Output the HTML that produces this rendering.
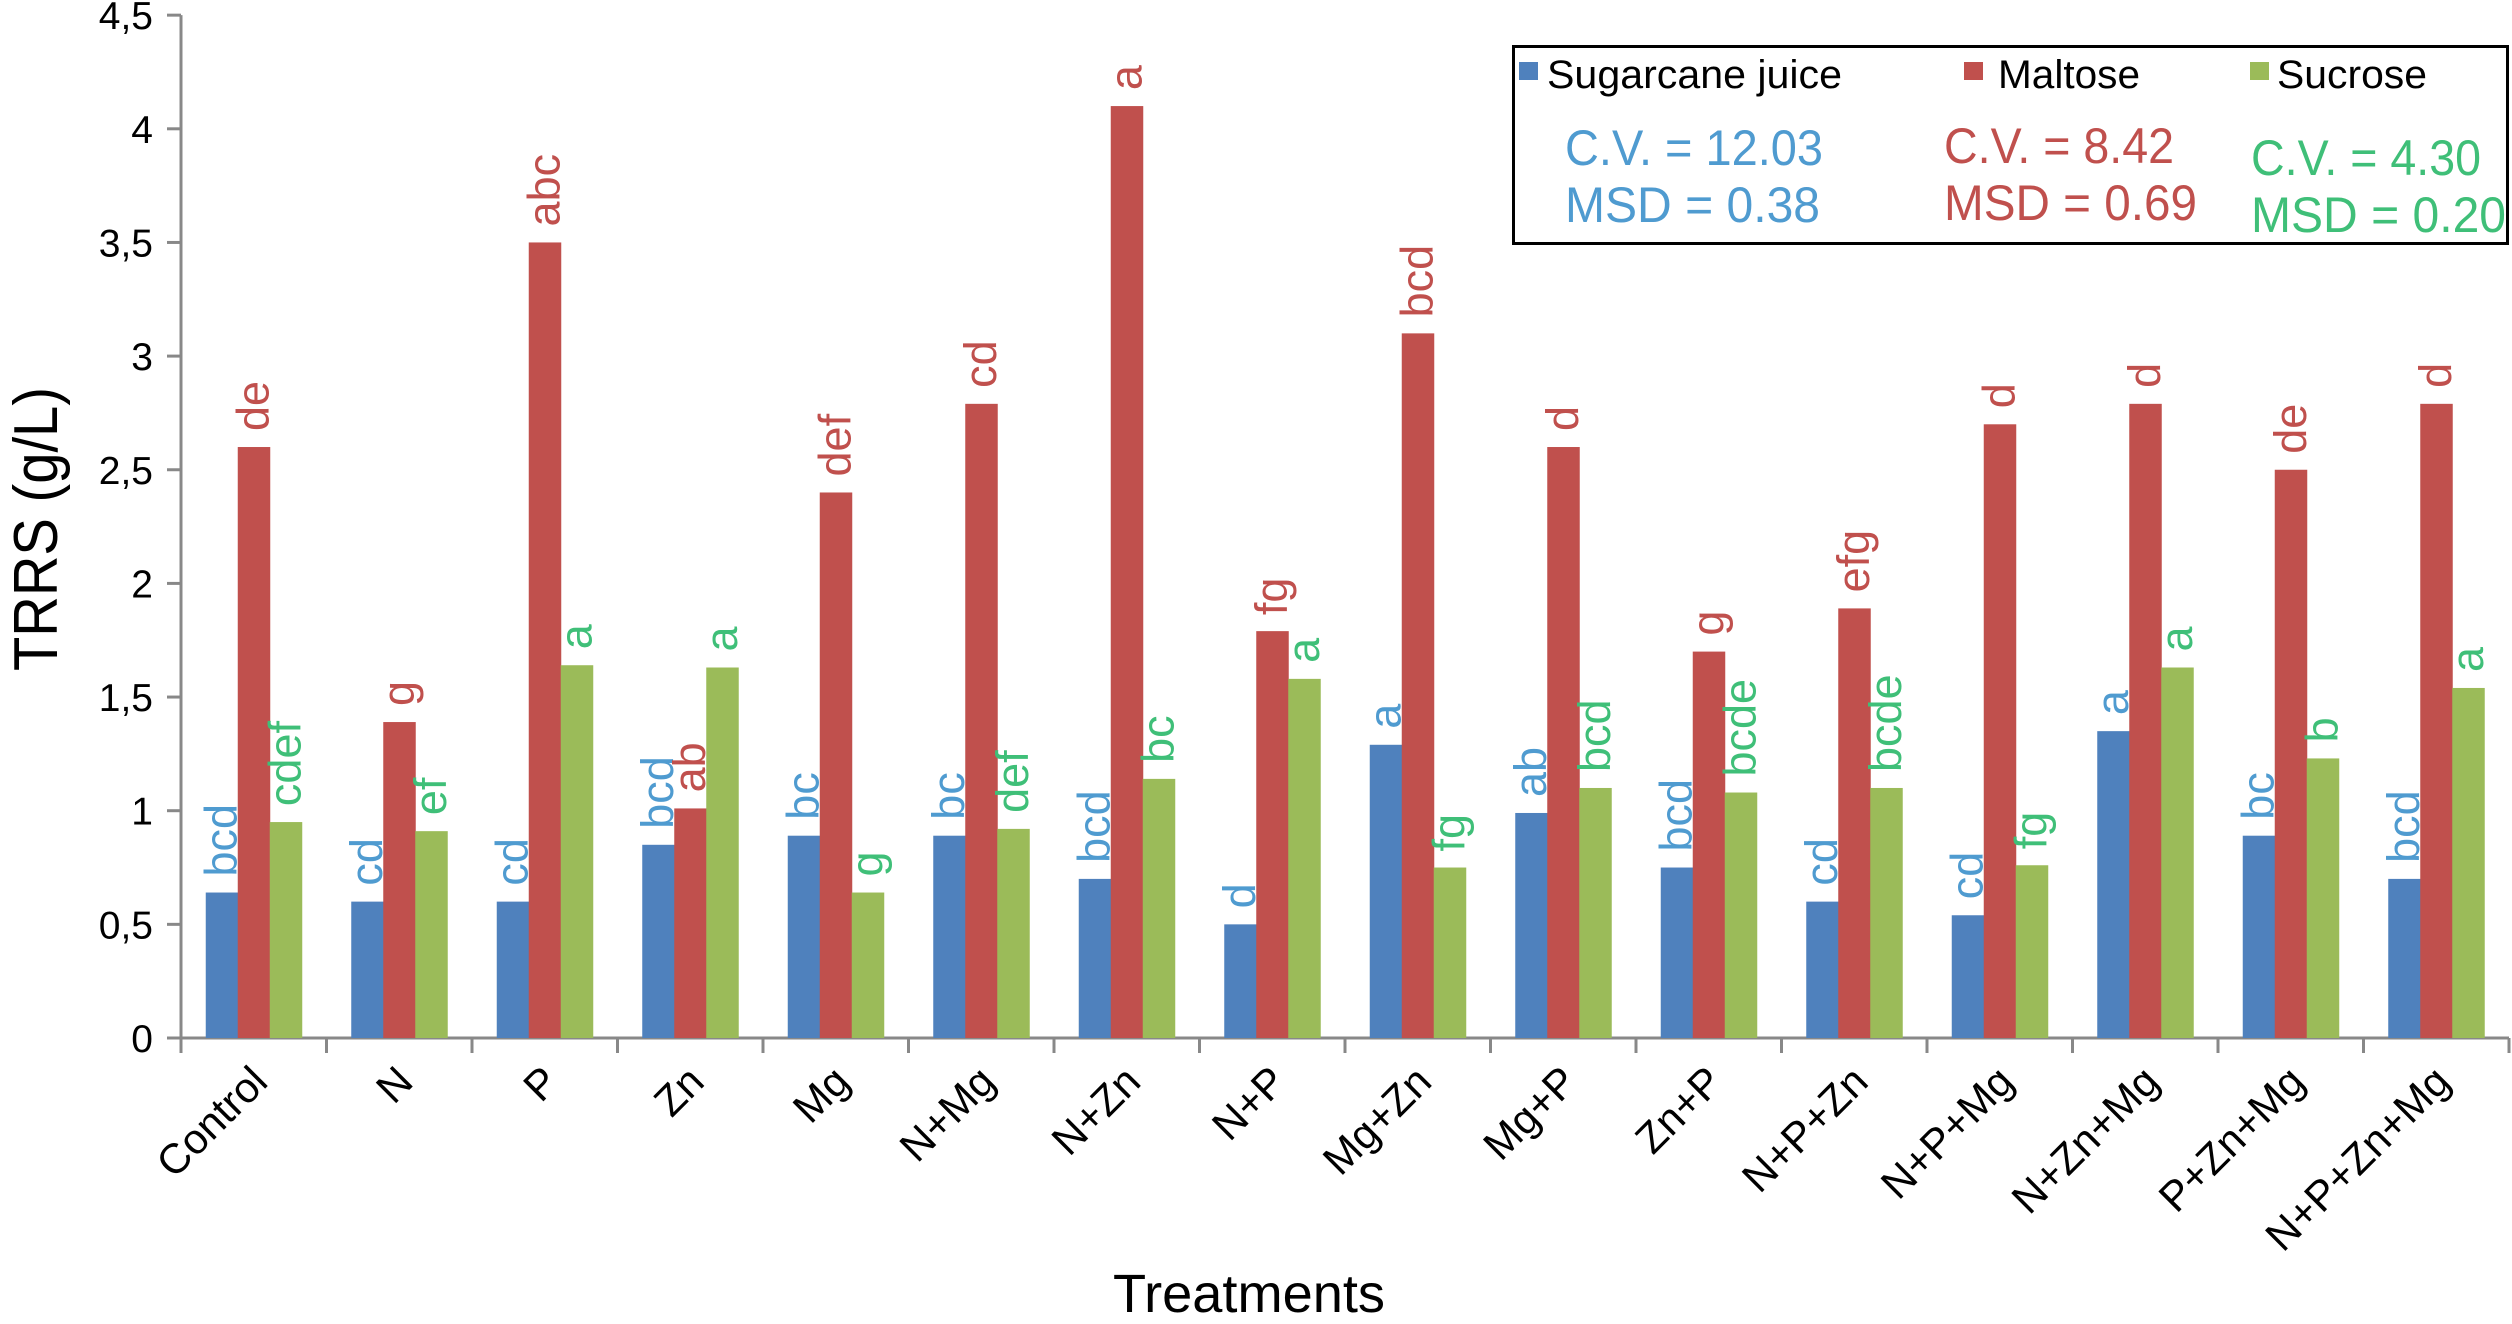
<!DOCTYPE html>
<html><head><meta charset="utf-8"><style>
html,body{margin:0;padding:0;background:#fff;}
svg{display:block;font-family:"Liberation Sans",sans-serif;}
</style></head><body>
<svg id="chart" width="2512" height="1324" viewBox="0 0 2512 1324">
<g id="axes"></g>
<g id="bars"></g>
<g id="letters"></g>
<text x="1249" y="1312" font-size="54" text-anchor="middle" textLength="272" lengthAdjust="spacingAndGlyphs">Treatments</text>
<text transform="translate(57,529) rotate(-90)" font-size="62" text-anchor="middle" textLength="284" lengthAdjust="spacingAndGlyphs">TRRS (g/L)</text>
<g>
<rect x="1513.5" y="46.5" width="994" height="197" fill="none" stroke="#000" stroke-width="3"/>
<rect x="1519" y="62" width="19" height="18" fill="#4F81BD"/>
<text x="1547" y="88" font-size="40" textLength="295" lengthAdjust="spacingAndGlyphs">Sugarcane juice</text>
<rect x="1964" y="62" width="19" height="18" fill="#C0504D"/>
<text x="1998" y="88" font-size="40" textLength="142" lengthAdjust="spacingAndGlyphs">Maltose</text>
<rect x="2250" y="62" width="19" height="18" fill="#9BBB59"/>
<text x="2277" y="88" font-size="40" textLength="150" lengthAdjust="spacingAndGlyphs">Sucrose</text>
<text x="1565" y="165" font-size="50" fill="#4F9BD0" textLength="258" lengthAdjust="spacingAndGlyphs">C.V. = 12.03</text>
<text x="1565" y="222" font-size="50" fill="#4F9BD0" textLength="255" lengthAdjust="spacingAndGlyphs">MSD = 0.38</text>
<text x="1944" y="163" font-size="50" fill="#C0504D" textLength="230" lengthAdjust="spacingAndGlyphs">C.V. = 8.42</text>
<text x="1944" y="220" font-size="50" fill="#C0504D" textLength="253" lengthAdjust="spacingAndGlyphs">MSD = 0.69</text>
<text x="2251" y="175" font-size="50" fill="#3FBF78" textLength="230" lengthAdjust="spacingAndGlyphs">C.V. = 4.30</text>
<text x="2251" y="232" font-size="50" fill="#3FBF78" textLength="255" lengthAdjust="spacingAndGlyphs">MSD = 0.20</text>
</g>
</svg>
<script>
const categories = ["Control","N","P","Zn","Mg","N+Mg","N+Zn","N+P","Mg+Zn","Mg+P","Zn+P","N+P+Zn","N+P+Mg","N+Zn+Mg","P+Zn+Mg","N+P+Zn+Mg"];
const sugarcane = [0.64,0.60,0.60,0.85,0.89,0.89,0.70,0.50,1.29,0.99,0.75,0.60,0.54,1.35,0.89,0.70];
const maltose = [2.60,1.39,3.50,1.01,2.40,2.79,4.10,1.79,3.10,2.60,1.70,1.89,2.70,2.79,2.50,2.79];
const sucrose = [0.95,0.91,1.64,1.63,0.64,0.92,1.14,1.58,0.75,1.10,1.08,1.10,0.76,1.63,1.23,1.54];
const sugarcaneLetters = ["bcd","cd","cd","bcd","bc","bc","bcd","d","a","ab","bcd","cd","cd","a","bc","bcd"];
const maltoseLetters = ["de","g","abc","ab","def","cd","a","fg","bcd","d","g","efg","d","d","de","d"];
const sucroseLetters = ["cdef","ef","a","a","g","def","bc","a","fg","bcd","bcde","bcde","fg","a","b","a"];
const yTicks = [0,0.5,1,1.5,2,2.5,3,3.5,4,4.5];
const yTickLabels = ["0","0,5","1","1,5","2","2,5","3","3,5","4","4,5"];

const NS="http://www.w3.org/2000/svg";
const X0=181, CW=145.5, Y0=1038, PPU=227.3, BW=32;
const yScale=v=>Y0-v*PPU;
const xCat=i=>X0+i*CW;
function mk(tag,attrs,parent){const e=document.createElementNS(NS,tag);for(const k in attrs)e.setAttribute(k,attrs[k]);parent.appendChild(e);return e;}
const axes=document.getElementById('axes'), bars=document.getElementById('bars'), letters=document.getElementById('letters');
const axisEnd=xCat(categories.length);
let ln=mk('line',{x1:X0,y1:yScale(4.5),x2:X0,y2:Y0,stroke:'#888',"stroke-width":3},axes);


ln=mk('line',{x1:X0-14,y1:Y0,x2:axisEnd,y2:Y0,stroke:'#888',"stroke-width":3},axes);


yTicks.forEach((t,i)=>{
  const y=yScale(t);
  const tk=mk('line',{x1:X0-14,y1:y,x2:X0,y2:y,stroke:'#888',"stroke-width":3},axes);
  
  
  const tl=mk('text',{x:153,y:y+14,"font-size":39,"text-anchor":"end"},axes);
  tl.textContent=yTickLabels[i];
  
  
});
for(let i=0;i<=categories.length;i++){
  const tk=mk('line',{x1:xCat(i),y1:Y0,x2:xCat(i),y2:Y0+15,stroke:'#888',"stroke-width":3},axes);
  
  
}
const series=[[sugarcane,sugarcaneLetters,'#4F81BD','#4F9BD0','sugarcane'],[maltose,maltoseLetters,'#C0504D','#C0504D','maltose'],[sucrose,sucroseLetters,'#9BBB59','#3FBF78','sucrose']];
categories.forEach((c,i)=>{
  const cx=xCat(i)+CW/2;
  const gx=cx-1.5*BW;
  series.forEach((s,j)=>{
    const v=s[0][i], x=gx+j*BW, y=yScale(v);
    const r=mk('rect',{x:x,y:y,width:BW+0.5,height:Y0-y,fill:s[2]},bars);
    
    
    const bx=x+BW/2+15, by=y-16;
    const t=mk('text',{x:bx,y:by,"font-size":45,fill:s[3],transform:`rotate(-90 ${bx} ${by})`},letters);
    t.textContent=s[1][i];
    
    
  });
  const lx=cx+16, ly=1084;
  const lb=mk('text',{x:lx,y:ly,"font-size":42,"text-anchor":"end",transform:`rotate(-45 ${lx} ${ly})`},axes);
  lb.textContent=c;
  
  
});
</script>
</body></html>
